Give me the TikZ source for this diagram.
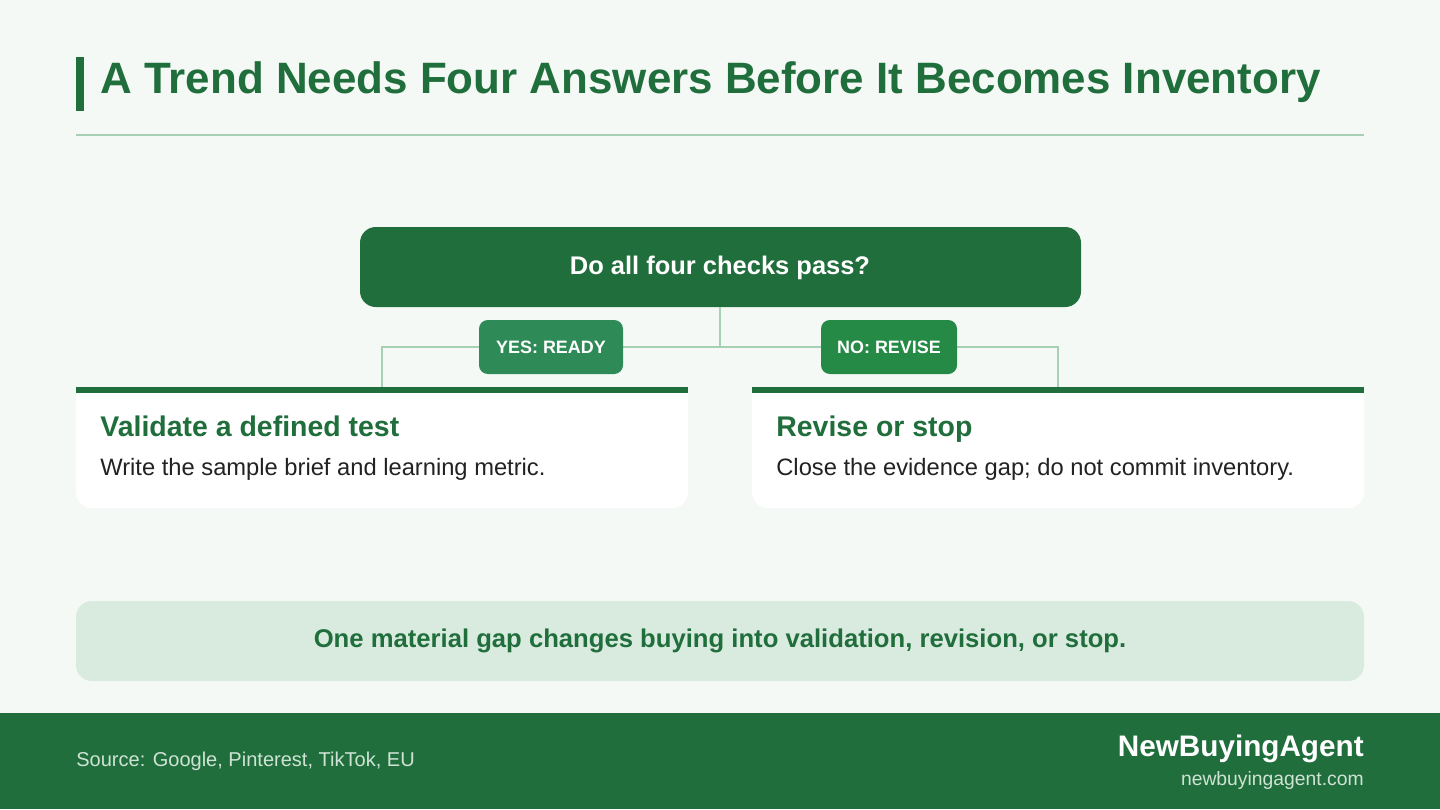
\documentclass[tikz,border=0pt]{standalone}
\usepackage{fontspec}
\setmainfont{Liberation Sans}
\usetikzlibrary{positioning}
\definecolor{bgpage}{HTML}{F5F9F6}
\definecolor{darkgreen}{HTML}{216E3D}
\definecolor{yesgreen}{HTML}{2E8B57}
\definecolor{nogreen}{HTML}{248A45}
\definecolor{linegreen}{HTML}{A8D0B4}
\definecolor{bannerfill}{HTML}{D9EBDF}
\definecolor{bodytext}{HTML}{222222}
\definecolor{footlight}{HTML}{CFE3D5}
\begin{document}
\begin{tikzpicture}[x=0.02cm,y=-0.02cm,
		box/.style={rounded corners=9pt,inner sep=0pt},
		badge/.style={box,rounded corners=5pt,text=white,font=\bfseries\fontsize{10.2}{12}\selectfont},
		cardtitle/.style={anchor=west,inner sep=0pt,text height=1.5ex,text depth=0.4ex,text=darkgreen,font=\bfseries\fontsize{16.2}{19}\selectfont},
		cardbody/.style={anchor=west,inner sep=0pt,text height=1.5ex,text depth=0.4ex,text=bodytext,font=\fontsize{13.5}{16}\selectfont},
		wire/.style={linegreen,line width=1.5pt}
		]
		\useasboundingbox (0,0) rectangle (1440,809);
		\fill[bgpage] (0,0) rectangle (1440,809);
		% heading
		\fill[darkgreen] (76,57) rectangle (84,111);
		\node[anchor=west,inner sep=0pt,text=darkgreen,font=\bfseries\fontsize{25}{29}\selectfont] (title) at (100,82) {A Trend Needs Four Answers Before It Becomes Inventory};
		\draw[linegreen,line width=1pt] (76,135) -- (1364,135);
		% question
		\fill[darkgreen,box] (360,227) rectangle (1081,307);
		\node[text=white,font=\bfseries\fontsize{14.5}{17}\selectfont] (ask) at (720,268) {Do all four checks pass?};
		\coordinate (split) at (720,347);
		\coordinate (yesend) at (382,387);
		\coordinate (noend) at (1058,387);
		\draw[wire] (720,307) -- (split);
		\draw[wire] (yesend) |- (noend |- split) -- (noend);
		% badges
		\fill[yesgreen,rounded corners=5pt] (479,320) rectangle (623,374);
		\node[badge] (yes) at (551,347) {YES: READY};
		\fill[nogreen,rounded corners=5pt] (821,320) rectangle (957,374);
		\node[badge] (no) at (889,347) {NO: REVISE};
		% cards
		\foreach \x/\name/\head/\body in {76/valid/Validate a defined test/Write the sample brief and learning metric.,
			752/revise/Revise or stop/{Close the evidence gap; do not commit inventory.}}{
			\fill[white,rounded corners=9pt] (\x,387) rectangle (\x+612,508);
			\fill[white] (\x,387) rectangle (\x+612,420);
			\fill[darkgreen] (\x,387) rectangle (\x+612,393);
			\node[cardtitle] (\name-head) at (\x+24,431) {\head};
			\node[cardbody] (\name-body) at (\x+24,470) {\body};
		}
		% banner
		\fill[bannerfill,rounded corners=9pt] (76,601) rectangle (1364,681);
		\node[text=darkgreen,font=\bfseries\fontsize{14.6}{17}\selectfont] (note) at (720,641) {One material gap changes buying into validation, revision, or stop.};
		% footer
		\fill[darkgreen] (0,713) rectangle (1440,809);
		\node[anchor=west,inner sep=0pt,text=footlight,font=\fontsize{11.4}{13}\selectfont] (source) at (76,761) {Source: Google, Pinterest, TikTok, EU};
		\node[anchor=east,inner sep=0pt,text=white,font=\bfseries\fontsize{16.9}{19}\selectfont] (brand) at (1364,749) {NewBuyingAgent};
		\node[anchor=east,inner sep=0pt,text=footlight,font=\fontsize{11}{13}\selectfont] (url) at (1364,780) {newbuyingagent.com};
	\end{tikzpicture}
\end{document}
